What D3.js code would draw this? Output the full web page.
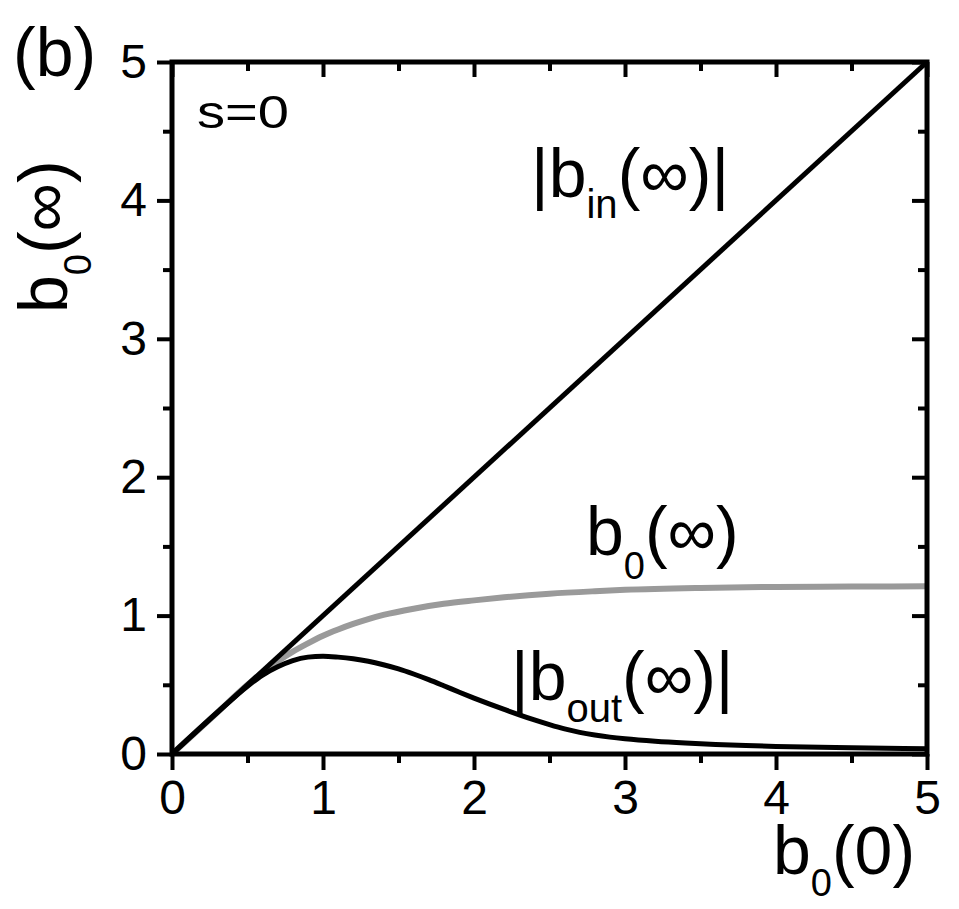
<!DOCTYPE html>
<html>
<head>
<meta charset="utf-8">
<script src="https://cdn.jsdelivr.net/npm/d3@7/dist/d3.min.js"></script>
<style>
  body { margin: 0; background: #fff; }
  svg text { font-family: "Liberation Sans", Arial, sans-serif; fill: #000; }
</style>
</head>
<body>
<div id="chart"></div>
<script>
// tick values
var xTicks = [0, 1, 2, 3, 4, 5];
var yTicks = [0, 1, 2, 3, 4, 5];
var minorTicks = [0.5, 1.5, 2.5, 3.5, 4.5];

// |b_in(inf)| : straight line
var inX = [0, 5];
var inY = [0, 5];

// b0(inf) : grey curve
var b0X = [0, 0.3, 0.5, 0.6, 0.7, 0.8, 0.9, 1.0, 1.1, 1.2, 1.3, 1.4, 1.6, 1.8, 2.0, 2.2, 2.5, 2.8, 3.0, 3.5, 4.0, 4.5, 5.0];
var b0Y = [0, 0.3, 0.5, 0.59, 0.67, 0.74, 0.80, 0.855, 0.90, 0.94, 0.975, 1.005, 1.05, 1.085, 1.11, 1.132, 1.158, 1.176, 1.186, 1.20, 1.207, 1.21, 1.212];

// |b_out(inf)| : black hump
var outX = [0, 0.3, 0.5, 0.6, 0.7, 0.8, 0.9, 1.0, 1.1, 1.2, 1.3, 1.4, 1.5, 1.6, 1.7, 1.8, 1.9, 2.0, 2.1, 2.2, 2.3, 2.4, 2.5, 2.6, 2.7, 2.8, 2.9, 3.0, 3.2, 3.4, 3.6, 3.8, 4.0, 4.5, 5.0];
var outY = [0, 0.3, 0.49, 0.57, 0.63, 0.675, 0.70, 0.707, 0.700, 0.688, 0.670, 0.645, 0.615, 0.578, 0.537, 0.493, 0.448, 0.404, 0.362, 0.322, 0.283, 0.246, 0.212, 0.181, 0.156, 0.137, 0.122, 0.110, 0.092, 0.079, 0.069, 0.061, 0.055, 0.045, 0.038];

function zip(xs, ys) {
    return xs.map(function (v, i) { return [v, ys[i]]; });
}

var W = 959, H = 909;
var pLeft = 172, pRight = 927, pTop = 62, pBottom = 754;

var svg = d3.select("#chart").append("svg")
    .attr("width", W)
    .attr("height", H);

var x = d3.scaleLinear().domain([0, 5]).range([pLeft, pRight]);
var y = d3.scaleLinear().domain([0, 5]).range([pBottom, pTop]);

var line = d3.line()
    .x(function (d) { return x(d[0]); })
    .y(function (d) { return y(d[1]); })
    .curve(d3.curveMonotoneX);

// curves (grey under black)
svg.append("path")
    .datum(zip(b0X, b0Y))
    .attr("d", line)
    .attr("fill", "none")
    .attr("stroke", "#9a9a9a")
    .attr("stroke-width", 6);

svg.append("path")
    .datum(zip(outX, outY))
    .attr("d", line)
    .attr("fill", "none")
    .attr("stroke", "#000")
    .attr("stroke-width", 5);

svg.append("path")
    .datum(zip(inX, inY))
    .attr("d", line)
    .attr("fill", "none")
    .attr("stroke", "#000")
    .attr("stroke-width", 5);

// axes
function styleAxis(g) {
    g.attr("font-size", 48).attr("font-family", "Liberation Sans, Arial, sans-serif");
    g.select(".domain").remove();
    g.selectAll(".tick line").attr("stroke", "#000").attr("stroke-width", 4);
    g.selectAll(".tick text").attr("font-size", 48).attr("fill", "#000");
}

// bottom: outward ticks with labels
svg.append("g").attr("transform", "translate(0," + pBottom + ")")
    .call(d3.axisBottom(x).tickValues(xTicks).tickSize(16).tickPadding(10).tickFormat(d3.format("d")))
    .call(styleAxis);
svg.append("g").attr("transform", "translate(0," + pBottom + ")")
    .call(d3.axisBottom(x).tickValues(minorTicks).tickSize(9).tickFormat(""))
    .call(styleAxis);

// left: outward ticks with labels
svg.append("g").attr("transform", "translate(" + pLeft + ",0)")
    .call(d3.axisLeft(y).tickValues(yTicks).tickSize(15).tickPadding(10).tickFormat(d3.format("d")))
    .call(styleAxis);
svg.append("g").attr("transform", "translate(" + pLeft + ",0)")
    .call(d3.axisLeft(y).tickValues(minorTicks).tickSize(9).tickFormat(""))
    .call(styleAxis);

// top: inward ticks
svg.append("g").attr("transform", "translate(0," + pTop + ")")
    .call(d3.axisBottom(x).tickValues(xTicks).tickSize(15).tickFormat(""))
    .call(styleAxis);
svg.append("g").attr("transform", "translate(0," + pTop + ")")
    .call(d3.axisBottom(x).tickValues(minorTicks).tickSize(9).tickFormat(""))
    .call(styleAxis);

// right: inward ticks
svg.append("g").attr("transform", "translate(" + pRight + ",0)")
    .call(d3.axisLeft(y).tickValues(yTicks).tickSize(15).tickFormat(""))
    .call(styleAxis);
svg.append("g").attr("transform", "translate(" + pRight + ",0)")
    .call(d3.axisLeft(y).tickValues(minorTicks).tickSize(9).tickFormat(""))
    .call(styleAxis);

// frame
svg.append("rect")
    .attr("x", pLeft).attr("y", pTop)
    .attr("width", pRight - pLeft).attr("height", pBottom - pTop)
    .attr("fill", "none")
    .attr("stroke", "#000")
    .attr("stroke-width", 5);

// labels with subscripts
function subLabel(px, py, pre, base, sub, post, size, subSize, shift) {
    var t = svg.append("text")
        .attr("x", px).attr("y", py)
        .attr("font-size", size);
    t.append("tspan").text(pre + base);
    t.append("tspan").attr("font-size", subSize).attr("dy", shift).text(sub);
    t.append("tspan").attr("dy", -shift).text(post);
    return t;
}

subLabel(531, 197, "|", "b", "in", "(∞)|", 68, 40, 21);
subLabel(586, 555, "", "b", "0", "(∞)", 68, 38, 24);
subLabel(511, 700, "|", "b", "out", "(∞)|", 68, 40, 22);
subLabel(773, 874, "", "b", "0", "(0)", 68, 38, 22);

// y axis title, rotated
subLabel(0, 0, "", "b", "0", "(∞)", 68, 38, 24)
    .attr("transform", "translate(67,313) rotate(-90)");

svg.append("text").attr("x", 197).attr("y", 128).attr("font-size", 46)
    .attr("textLength", 92).attr("lengthAdjust", "spacingAndGlyphs").text("s=0");
svg.append("text").attr("x", 13).attr("y", 76).attr("font-size", 68).text("(b)");
</script>
</body>
</html>
